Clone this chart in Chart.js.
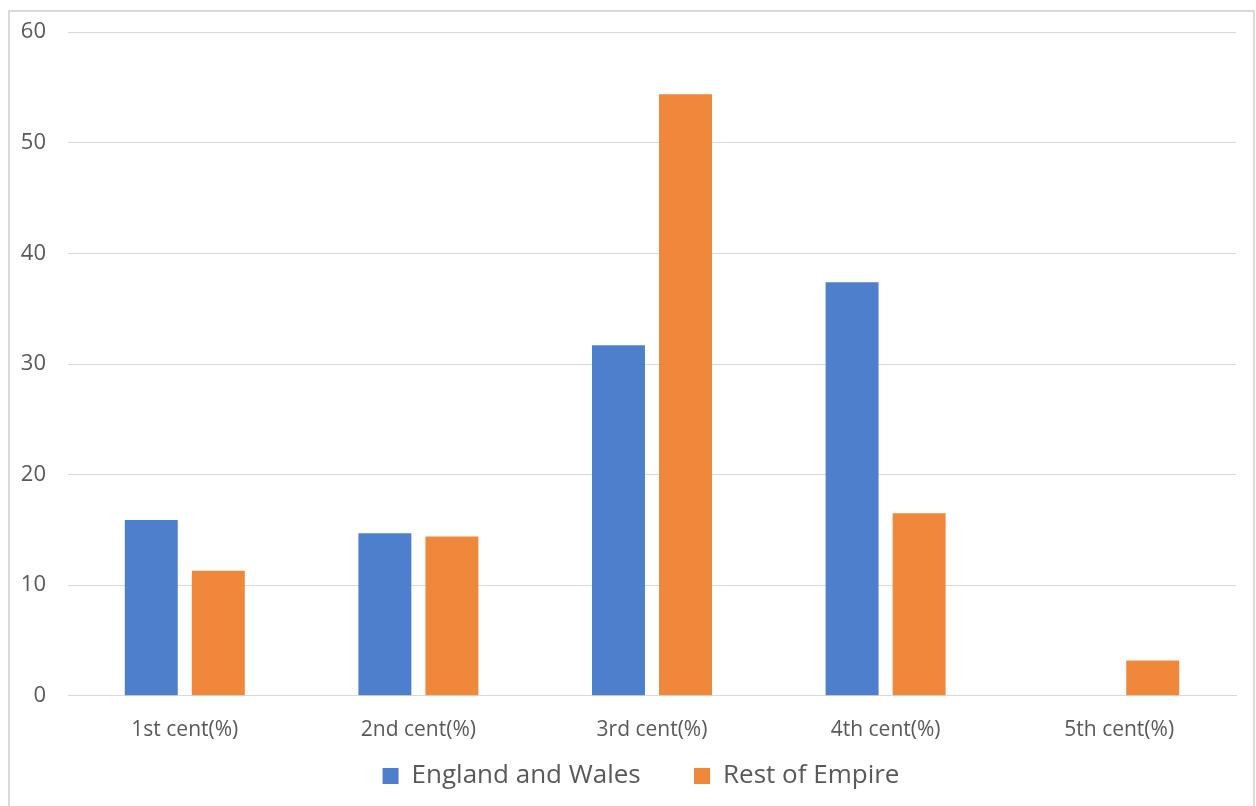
<!DOCTYPE html>
<html>
<head>
<meta charset="utf-8">
<script src="https://cdn.jsdelivr.net/npm/chart.js@4"></script>
<style>
  body { margin: 0; background: #fff; overflow: hidden; }
  #frame {
    position: absolute; left: 8px; top: 10px;
    width: 1243px; height: 800px;
    border: 2px solid #d9d9d9; border-bottom: none;
  }
  #wrap { position: absolute; left: 10px; top: -3px; width: 1240px; height: 830px; }
</style>
</head>
<body>
<div id="frame"></div>
<div id="wrap"><canvas id="chart"></canvas></div>
<script>
const categories = ["1st cent(%)", "2nd cent(%)", "3rd cent(%)", "4th cent(%)", "5th cent(%)"];
const englandWales = [15.9, 14.7, 31.7, 37.4, 0];
const restOfEmpire = [11.3, 14.4, 54.4, 16.5, 3.2];

const textColor = "#595959";
const gridColor = "#d9d9d9";
const fontFamily = "'Open Sans', sans-serif";

// nudge the legend a bit to the right, it sits slightly off centre in the original
const legendShift = {
  id: "legendShift",
  afterLayout(chart) {
    chart.legend.left += 18;
    chart.legend.right += 18;
  }
};

new Chart(document.getElementById("chart"), {
  type: "bar",
  data: {
    labels: categories,
    datasets: [
      {
        label: "England and Wales",
        data: englandWales,
        backgroundColor: "#4e7fcc",
        categoryPercentage: 0.574,
        barPercentage: 0.79
      },
      {
        label: "Rest of Empire",
        data: restOfEmpire,
        backgroundColor: "#ef883b",
        categoryPercentage: 0.574,
        barPercentage: 0.79
      }
    ]
  },
  plugins: [legendShift],
  options: {
    responsive: true,
    maintainAspectRatio: false,
    animation: false,
    layout: { padding: { top: 6, right: 14, bottom: 28, left: 0 } },
    plugins: {
      legend: {
        position: "bottom",
        labels: {
          color: textColor,
          font: { family: fontFamily, size: 26 },
          boxWidth: 16,
          boxHeight: 16,
          padding: 6,
          // wider gap between the two entries
          generateLabels: (chart) => {
            const items = Chart.defaults.plugins.legend.labels.generateLabels(chart);
            items[0].text += "\u00a0\u00a0\u00a0\u00a0\u00a0\u00a0\u00a0";
            return items;
          }
        }
      },
      tooltip: { enabled: false }
    },
    scales: {
      x: {
        grid: { display: false },
        border: { color: gridColor },
        ticks: {
          color: textColor,
          font: { family: fontFamily, size: 21 },
          padding: 14
        }
      },
      y: {
        min: 0,
        max: 60,
        grid: { color: gridColor, drawTicks: false },
        border: { display: false },
        ticks: {
          stepSize: 10,
          color: textColor,
          font: { family: fontFamily, size: 22 },
          padding: 22
        },
        afterFit: (scale) => { scale.width = 58; }
      }
    }
  }
});
</script>
</body>
</html>
